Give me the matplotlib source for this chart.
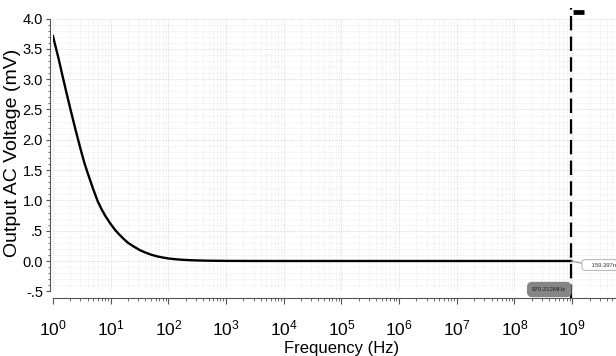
import numpy as np
import matplotlib
matplotlib.use("Agg")
import matplotlib.pyplot as plt
from matplotlib.ticker import LogLocator, MultipleLocator, FixedLocator, NullFormatter

# data
freq = [1, 1.25, 1.5, 1.75, 2, 2.5, 3, 3.5, 4, 5, 6, 7, 8, 10, 12, 14, 17, 20,
        25, 32, 40, 50, 65, 80, 100, 130, 170, 220, 300, 500, 1e3, 3e3, 1e4,
        1e5, 1e6, 1e7, 1e8, 9.70212e8]
volt = [3.71, 3.34, 3.01, 2.74, 2.51, 2.14, 1.85, 1.62, 1.45, 1.18, 0.98, 0.85,
        0.75, 0.61, 0.51, 0.44, 0.36, 0.30, 0.24, 0.18, 0.14, 0.105, 0.075,
        0.058, 0.042, 0.030, 0.021, 0.015, 0.010, 0.005, 0.002, 0.0005, 0.0,
        0.0, 0.0, 0.0, 0.0, 0.0]

# part of trace that runs off the top past the marker
over_freq = [1.04e9, 1.6e9]
over_volt = [4.11, 4.11]

marker_freq = 9.70212e8
marker_label = "970.212MHz"
readout_freq = 1.89e9
readout_volt = -0.066
readout_label = "159.397n"

ytick_vals = [4.0, 3.5, 3.0, 2.5, 2.0, 1.5, 1.0, 0.5, 0.0, -0.5]
ytick_text = ["4.0", "3.5", "3.0", "2.5", "2.0", "1.5", "1.0", ".5", "0.0", "-.5"]

plt.rcParams["font.family"] = ["Liberation Sans", "DejaVu Sans"]
plt.rcParams["mathtext.fontset"] = "custom"
plt.rcParams["mathtext.rm"] = "Liberation Sans"
plt.rcParams["mathtext.it"] = "Liberation Sans"

fig = plt.figure(figsize=(6.16, 3.56), dpi=100)
ax = fig.add_axes([0.086, 0.1817, 0.914, 0.7661])

ax.plot(freq, volt, color="black", lw=1.7, solid_joinstyle="round")
ax.plot(over_freq, over_volt, color="black", lw=3.4, clip_on=False, solid_capstyle="butt")

ax.set_xscale("log")
ax.set_xlim(1, 10 ** 9.76)
ax.set_ylim(-0.5, 4.0)

# marker line
ax.plot([marker_freq, marker_freq], [-0.62, 4.17], color="black", lw=1.6,
        dashes=(6.5, 2.8), clip_on=False)
ax.annotate(marker_label, (marker_freq, -0.47), xytext=(-3.6, 0), textcoords="offset points",
            ha="right", va="center", fontsize=4.3, color="#1e1e1e", annotation_clip=False,
            bbox=dict(boxstyle="round,pad=0.75", fc="#858585", ec="#858585"))

# readout box
ax.plot([marker_freq, 10 ** 9.22], [0.0, -0.05], color="#999999", lw=0.8, clip_on=False)
ax.text(10 ** 9.22, readout_volt, "    " + readout_label, fontsize=4.2, va="center", ha="left",
        color="#333333", clip_on=False,
        bbox=dict(boxstyle="round,pad=0.5", fc="white", ec="#bbbbbb", lw=0.8))
ax.plot([readout_freq], [readout_volt], "o", color="black", ms=3.5, clip_on=False)

# axes styling
for s in ["top", "right"]:
    ax.spines[s].set_visible(False)
ax.spines["left"].set_position(("outward", 2.2))
ax.spines["bottom"].set_position(("outward", 4.8))
ax.spines["left"].set_color("#555555")
ax.spines["bottom"].set_color("#555555")

ax.xaxis.set_minor_locator(LogLocator(base=10, subs=np.arange(2, 10), numticks=15))
ax.xaxis.set_minor_formatter(NullFormatter())
ax.set_xticks([10 ** k for k in range(10)])
ax.set_xticklabels([r"$\mathregular{10^{%d}}$" % k for k in range(10)])

ax.yaxis.set_major_locator(FixedLocator(ytick_vals))
ax.set_yticklabels(ytick_text)
ax.yaxis.set_minor_locator(MultipleLocator(0.1))

ax.tick_params(axis="x", which="major", direction="out", length=4, width=0.8,
               pad=11, labelsize=12.5, colors="#555555", labelcolor="black")
ax.tick_params(axis="x", which="minor", direction="out", length=2.5, width=0.6, colors="#555555")
ax.tick_params(axis="y", which="major", direction="out", length=3, width=0.8,
               pad=2, labelsize=10.5, colors="#555555", labelcolor="black")
ax.tick_params(axis="y", which="minor", direction="out", length=1.5, width=0.6, colors="#555555")

ax.grid(True, which="major", color="#cfcfcf", lw=0.6, ls=(0, (1, 1.5)))
ax.grid(True, which="minor", color="#e2e2e2", lw=0.5, ls=(0, (1, 1.5)))
ax.set_axisbelow(True)

fig.text(12.5 / 616, 0.5716, "Output AC Voltage (mV)", rotation=90, ha="center", va="center",
         fontsize=14)
fig.text(341.5 / 616, 1 - 348 / 356, "Frequency (Hz)", ha="center", va="center", fontsize=12)

fig.savefig("out.png", dpi=100)
